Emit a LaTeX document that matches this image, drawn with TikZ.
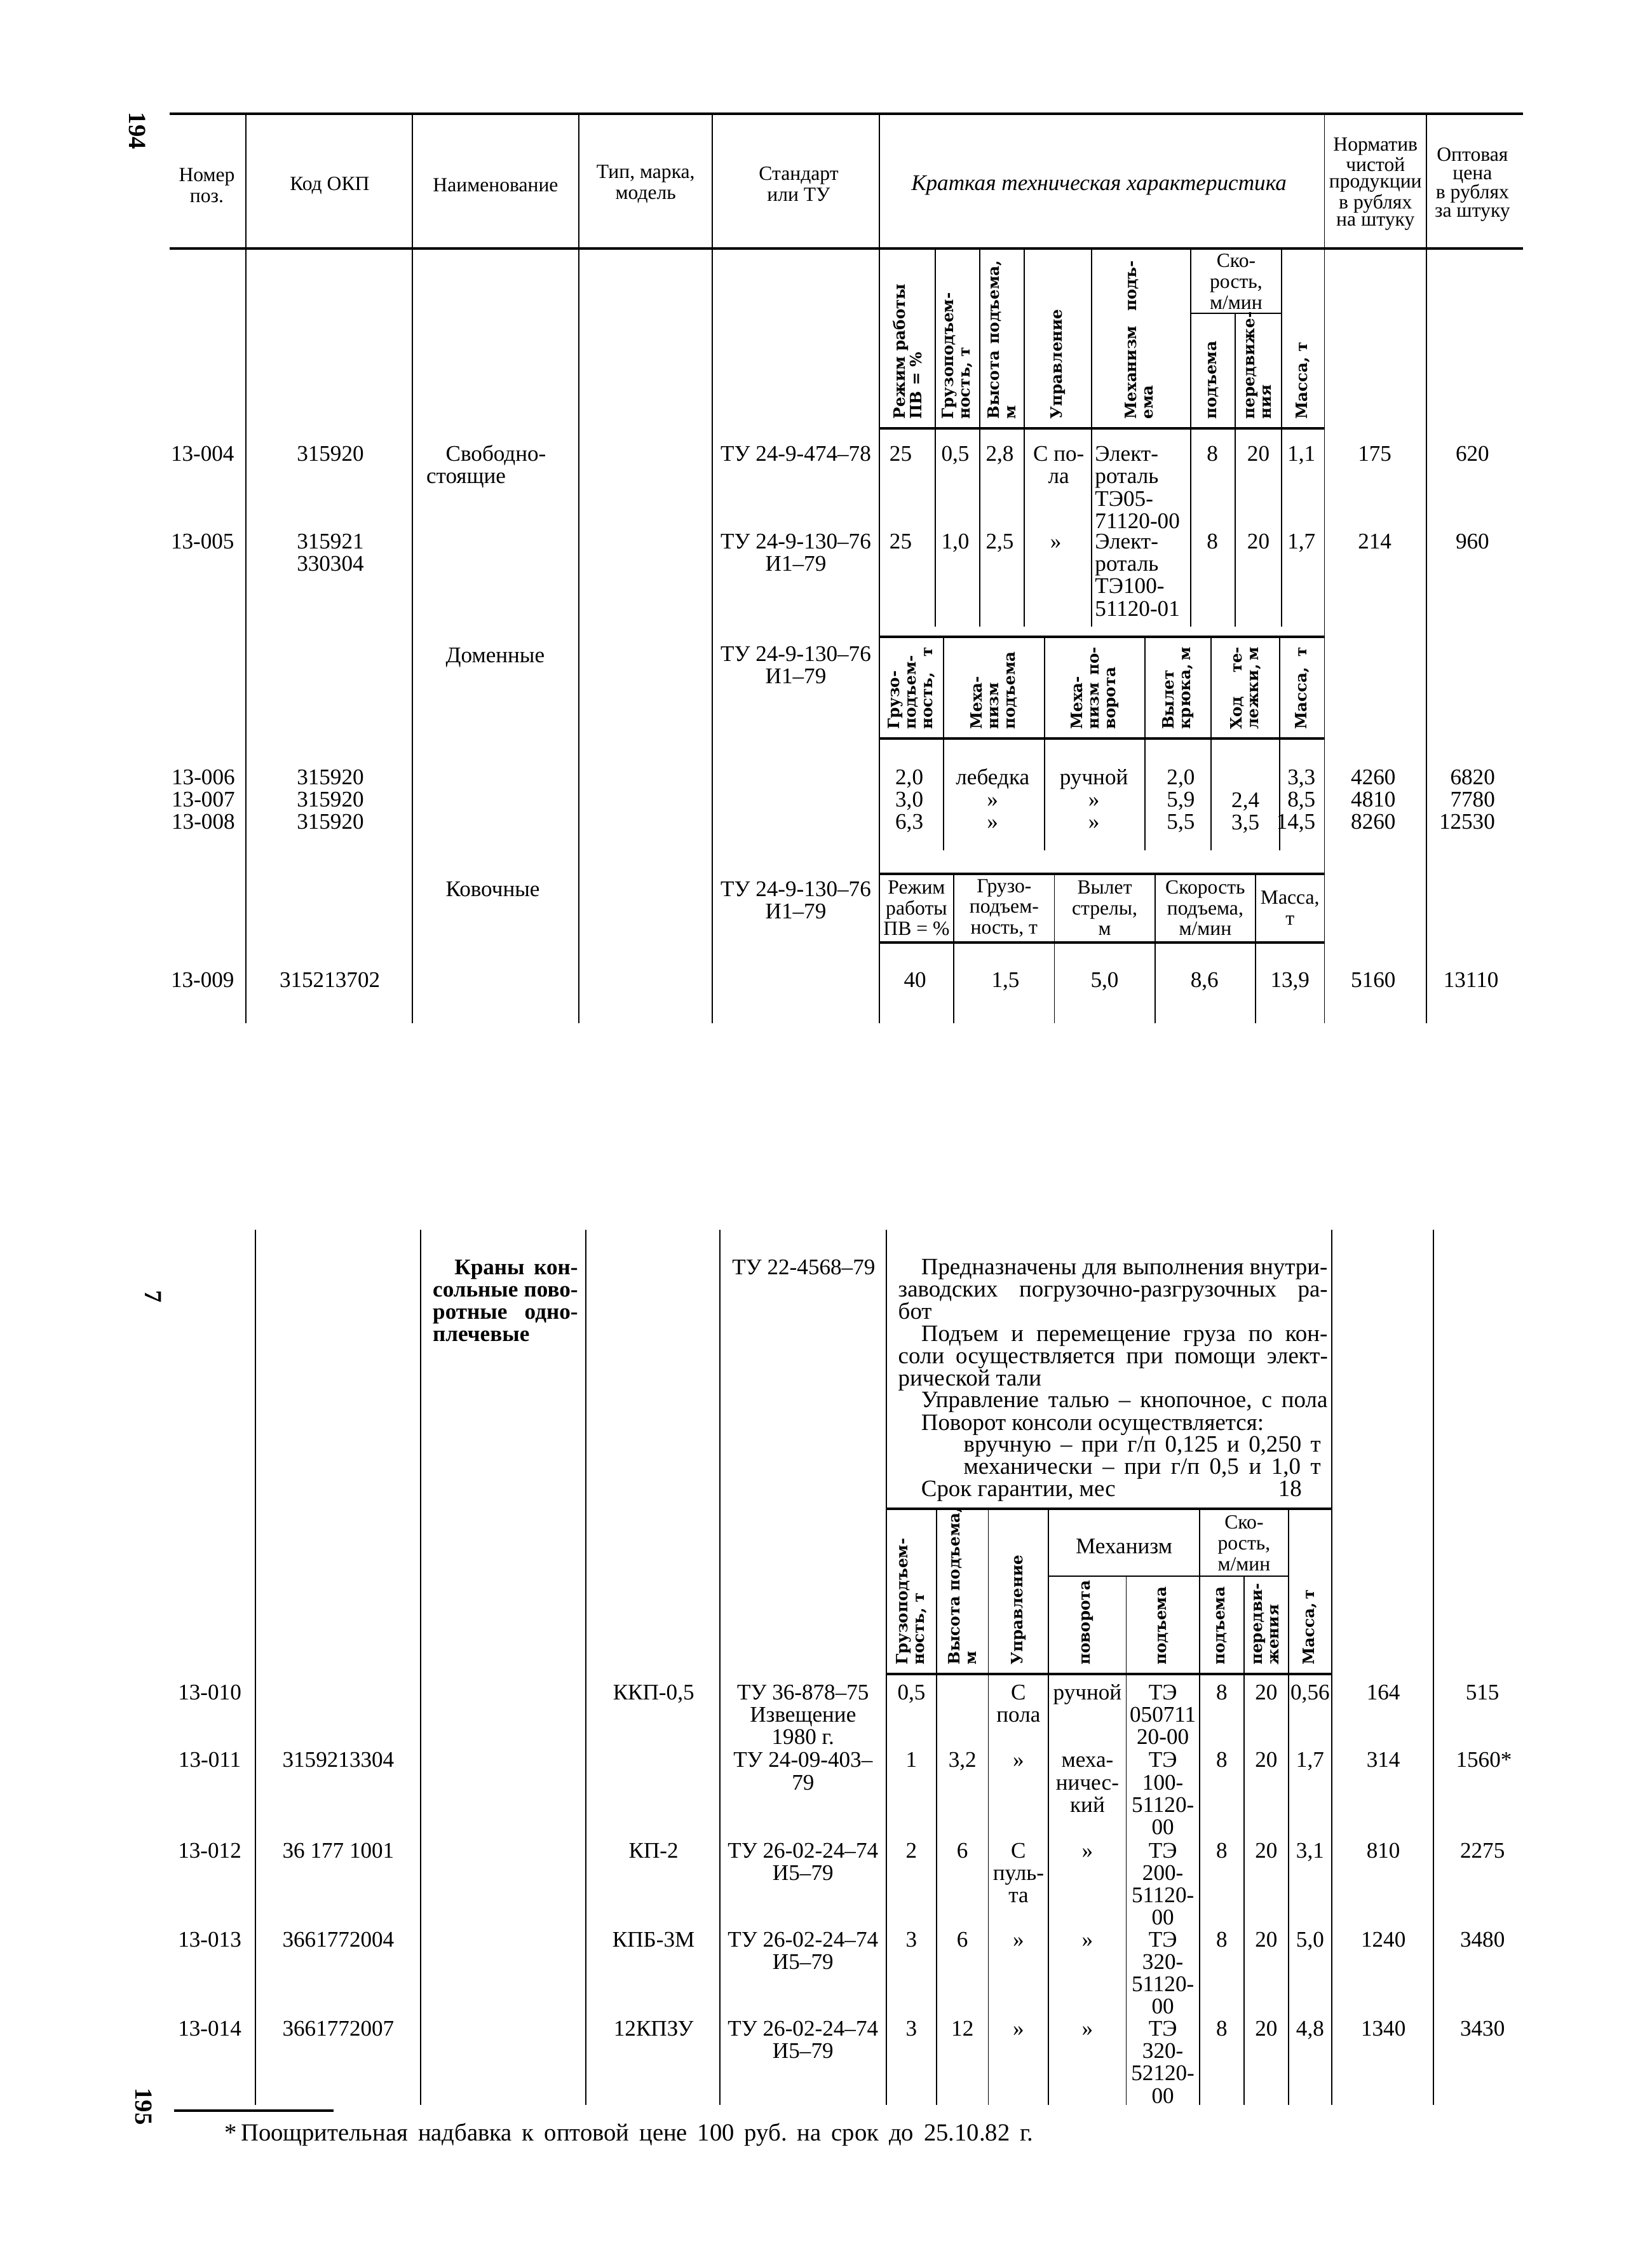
\documentclass[tikz,border=0pt]{standalone}
\usepackage{fontspec}
\setmainfont{Liberation Serif}
\newfontfamily\rotfam{DejaVu Serif}
\newcommand\datafont{\fontsize{10}{10}\selectfont}
\newcommand\descfont{\fontsize{10.5}{10}\selectfont}
\newcommand\headfont{\fontsize{9}{9.3}\selectfont}
\newcommand\rotfont{\rotfam\bfseries\fontsize{7}{7.4}\selectfont}
\newcommand\jl[2]{\makebox[#1][s]{#2}}
\newcommand\cst[1]{\begin{tabular}[t]{@{}c@{}}#1\end{tabular}}
\newcommand\lst[1]{\begin{tabular}[t]{@{}l@{}}#1\end{tabular}}
\newcommand\rst[1]{\begin{tabular}[t]{@{}r@{}}#1\end{tabular}}
\frenchspacing

\begin{document}
\begin{tikzpicture}[x=0.022617cm, y=-0.022617cm,
    rule/.style={line width=1.1pt},
    vline/.style={line width=0.55pt},
    hd/.style={font=\headfont, inner sep=0, align=center},
    cell/.style={font=\datafont, inner sep=0, anchor=base},
    desc/.style={font=\descfont, inner sep=0, anchor=base west},
    rot/.style={font=\rotfont, inner sep=0, rotate=90, anchor=west, align=left},
    pageno/.style={font=\bfseries\fontsize{11}{11}\selectfont, inner sep=0, rotate=-90}]
            \fill[white] (0,0) rectangle (1150,1568);
            \useasboundingbox (0,0) rectangle (1150,1568);
            % upper table
            \draw[rule] (118,79) -- (1060,79);
            \draw[rule] (118,173) -- (1060,173);
            \foreach \x in {171,287,403,496,612,922,993} \draw[vline] (\x,79) -- (\x,712);
            \draw[vline] (829,218) -- (892,218);
            \draw[rule] (612,298) -- (922,298);
            \foreach \x in {651,682,713,760,829,892} \draw[vline] (\x,173) -- (\x,436);
            \draw[vline] (860,218) -- (860,436);
            \draw[rule] (612,443) -- (922,443);
            \draw[rule] (612,514) -- (922,514);
            \foreach \x in {657,727,797,843,891} \draw[vline] (\x,443) -- (\x,592);
            \draw[rule] (612,608) -- (922,608);
            \draw[rule] (612,656) -- (922,656);
            \foreach \x in {664,734,804,874} \draw[vline] (\x,608) -- (\x,712);
            % lower table
            \foreach \x in {178,293,408,501,617,927,998} \draw[vline] (\x,856) -- (\x,1465);
            \draw[rule] (617,1050) -- (927,1050);
            \draw[vline] (730,1097) -- (897,1097);
            \draw[rule] (617,1165) -- (927,1165);
            \foreach \x in {652,688,730,835,897} \draw[vline] (\x,1050) -- (\x,1465);
            \foreach \x in {784,866} \draw[vline] (\x,1097) -- (\x,1465);
            \draw[line width=1pt] (121,1469) -- (232,1469);

            \node[pageno] (pg194) at (95.5,91) {194};
            \node[pageno] (pg7) at (106.5,902.5) {7};
            \node[pageno] (pg195) at (100,1466) {195};

            \node[hd] (hnum) at (144,129) {Номер\\поз.};
            \node[hd] (hcode) at (229.5,129) {Код ОКП};
            \node[hd] (hname) at (345,129) {Наименование};
            \node[hd] (htype) at (449.5,128) {Тип, марка,\\модель};
            \node[hd] (hstd) at (556,128) {Стандарт\\или ТУ};
            \node[hd, font=\itshape\fontsize{10}{10}\selectfont] (hchar) at (765,129) {Краткая техническая характеристика};
            \node[hd, font=\fontsize{9}{7.6}\selectfont] (hnorm) at (957.5,128) {Норматив\\чистой\\продукции\\в рублях\\на штуку};
            \node[hd, font=\fontsize{9}{8.4}\selectfont] (hprice) at (1025,128.5) {Оптовая\\цена\\в рублях\\за штуку};

            \node[rot] (s1a) at (631.5,292) {Режим работы\\ПВ = \%};
            \node[rot] (s1b) at (666.5,292) {Грузоподъем-\\ность, т};
            \node[rot] (s1c) at (697.5,292) {\jl{71pt}{Высота подъема,}\\м};
            \node[rot] (s1d) at (736.5,292) {Управление};
            \node[rot] (s1e) at (793,292) {\jl{71pt}{Механизм подъ-}\\ема};
            \node[hd] (s1f) at (860.5,196) {Ско-\\рость,\\м/мин};
            \node[rot] (s1g) at (844.5,292) {подъема};
            \node[rot] (s1h) at (876,292) {передвиже-\\ния};
            \node[rot] (s1i) at (907,292) {Масса, т};

            \node[cell] (n004) at (141,321) {13-004};
            \node[cell] (k004) at (230,321) {315920};
            \node[cell, anchor=base west] (m004) at (296.5,321) {\lst{\hspace*{8.7pt}Свободно-\\стоящие}};
            \node[cell] (t004) at (554,321) {ТУ 24-9-474–78};
            \node[cell] (a004) at (627,321) {25};
            \node[cell] (b004) at (665,321) {0,5};
            \node[cell] (c004) at (696,321) {2,8};
            \node[cell] (d004) at (737,321) {\cst{С по-\\ла}};
            \node[cell, anchor=base west] (e004) at (762,321) {\lst{Элект-\\роталь\\ТЭ05-\\71120-00}};
            \node[cell] (f004) at (844,321) {8};
            \node[cell] (g004) at (876,321) {20};
            \node[cell] (h004) at (906,321) {1,1};
            \node[cell] (p004) at (957,321) {175};
            \node[cell] (q004) at (1025,321) {620};

            \node[cell] (n005) at (141,382) {13-005};
            \node[cell] (k005) at (230,382) {\cst{315921\\330304}};
            \node[cell] (t005) at (554,382) {\cst{ТУ 24-9-130–76\\И1–79}};
            \node[cell] (a005) at (627,382) {25};
            \node[cell] (b005) at (665,382) {1,0};
            \node[cell] (c005) at (696,382) {2,5};
            \node[cell] (d005) at (735,382) {»};
            \node[cell, anchor=base west] (e005) at (762,382) {\lst{Элект-\\роталь\\ТЭ100-\\51120-01}};
            \node[cell] (f005) at (844,382) {8};
            \node[cell] (g005) at (876,382) {20};
            \node[cell] (h005) at (906,382) {1,7};
            \node[cell] (p005) at (957,382) {214};
            \node[cell] (q005) at (1025,382) {960};

            \node[cell, anchor=base west] (mdom) at (296.5,461) {\hspace*{8.7pt}Доменные};
            \node[cell] (tdom) at (554,460) {\cst{ТУ 24-9-130–76\\И1–79}};
            \node[rot] (s2a) at (634.5,508) {Грузо-\\подъем-\\\jl{37pt}{ность, т}};
            \node[rot] (s2b) at (692,508) {Меха-\\низм\\подъема};
            \node[rot] (s2c) at (762,508) {Меха-\\\jl{37pt}{низм по-}\\ворота};
            \node[rot] (s2d) at (820,508) {Вылет\\\jl{37pt}{крюка, м}};
            \node[rot] (s2e) at (867,508) {\jl{37pt}{Ход те-}\\\jl{37pt}{лежки, м}};
            \node[rot] (s2f) at (906.5,508) {\jl{37pt}{Масса, т}};

            \node[cell] (n006) at (141.5,546) {\cst{13-006\\13-007\\13-008}};
            \node[cell] (k006) at (230,546) {\cst{315920\\315920\\315920}};
            \node[cell] (a006) at (633,546) {\cst{2,0\\3,0\\6,3}};
            \node[cell] (b006) at (691,546) {\cst{лебедка\\»\\»}};
            \node[cell] (c006) at (761.5,546) {\cst{ручной\\»\\»}};
            \node[cell] (d006) at (822,546) {\cst{2,0\\5,9\\5,5}};
            \node[cell] (e007) at (867,562) {\cst{2,4\\3,5}};
            \node[cell, anchor=base east] (f006) at (916,546) {\rst{3,3\\8,5\\14,5}};
            \node[cell] (p006) at (956,546) {\cst{4260\\4810\\8260}};
            \node[cell, anchor=base east] (q006) at (1041,546) {\rst{6820\\7780\\12530}};

            \node[cell, anchor=base west] (mkov) at (296.5,624) {\hspace*{8.7pt}Ковочные};
            \node[cell] (tkov) at (554,624) {\cst{ТУ 24-9-130–76\\И1–79}};
            \node[hd] (s3a) at (638,632) {Режим\\работы\\ПВ = \%};
            \node[hd] (s3b) at (699,632) {Грузо-\\подъем-\\ность, т};
            \node[hd] (s3c) at (769,632) {Вылет\\стрелы,\\м};
            \node[hd] (s3d) at (839,632) {Скорость\\подъема,\\м/мин};
            \node[hd] (s3e) at (898,632) {Масса,\\т};

            \node[cell] (n009) at (141,687) {13-009};
            \node[cell] (k009) at (229.6,687) {315213702};
            \node[cell] (a009) at (637,687) {40};
            \node[cell] (b009) at (700,687) {1,5};
            \node[cell] (c009) at (769,687) {5,0};
            \node[cell] (d009) at (838.5,687) {8,6};
            \node[cell] (e009) at (898,687) {13,9};
            \node[cell] (p009) at (956,687) {5160};
            \node[cell] (q009) at (1024,687) {13110};

            % lower table
            \node[cell, anchor=base west, font=\bfseries\datafont] (mcr) at (301,887) {\lst{\hspace*{9.7pt}\jl{55.3pt}{Краны кон-}\\\jl{65pt}{сольные пово-}\\\jl{65pt}{ротные одно-}\\плечевые}};
            \node[cell] (tcr) at (559.5,887) {ТУ 22-4568–79};
            \node[desc] (d0) at (641,887) {\jl{182pt}{Предназначены для выполнения внутри-}};
            \node[desc] (d1) at (625,902.5) {\jl{192.4pt}{заводских погрузочно-разгрузочных ра-}};
            \node[desc] (d2) at (625,918) {бот};
            \node[desc] (d3) at (641,933.4) {\jl{182pt}{Подъем и перемещение груза по кон-}};
            \node[desc] (d4) at (625,948.8) {\jl{192.4pt}{соли осуществляется при помощи элект-}};
            \node[desc] (d5) at (625,964.3) {рической тали};
            \node[desc] (d6) at (641,979.7) {\jl{182pt}{Управление талью – кнопочное, с пола}};
            \node[desc] (d7) at (641,995.2) {Поворот консоли осуществляется:};
            \node[desc] (d8) at (670.5,1010.6) {\jl{160pt}{вручную – при г/п 0,125 и 0,250 т}};
            \node[desc] (d9) at (670.5,1026) {\jl{160pt}{механически – при г/п 0,5 и 1,0 т}};
            \node[desc] (d10) at (641,1041.5) {Срок гарантии, мес};
            \node[cell, font=\descfont] (d10v) at (898,1041.5) {18};

            \node[rot] (s4a) at (634.5,1159) {Грузоподъем-\\ность, т};
            \node[rot] (s4b) at (670,1159) {Высота подъема,\\м};
            \node[rot] (s4c) at (709,1159) {Управление};
            \node[hd, font=\datafont] (s4m) at (782.5,1076) {Механизм};
            \node[rot] (s4d) at (757,1159) {поворота};
            \node[rot] (s4e) at (809.5,1159) {подъема};
            \node[hd] (s4s) at (866,1074) {Ско-\\рость,\\м/мин};
            \node[rot] (s4f) at (850.5,1159) {подъема};
            \node[rot] (s4g) at (881.5,1159) {передви-\\жения};
            \node[rot] (s4h) at (912,1159) {\jl{32pt}{Масса, т}};

            \node[cell] (n010) at (146,1183) {13-010};
            \node[cell] (y010) at (455,1183) {ККП-0,5};
            \node[cell] (t010) at (559,1183) {\cst{ТУ 36-878–75\\Извещение\\1980 г.}};
            \node[cell] (a010) at (634.5,1183) {0,5};
            \node[cell] (c010) at (709,1183) {\cst{С\\пола}};
            \node[cell] (e010) at (757,1183) {ручной};
            \node[cell] (f010) at (809.5,1183) {\cst{ТЭ\\050711\\20-00}};
            \node[cell] (g010) at (850.5,1183) {8};
            \node[cell] (h010) at (881.5,1183) {20};
            \node[cell] (i010) at (912,1183) {0,56};
            \node[cell] (p010) at (963,1183) {164};
            \node[cell] (q010) at (1032,1183) {515};

            \node[cell] (n011) at (146,1230) {13-011};
            \node[cell] (k011) at (235.5,1230) {3159213304};
            \node[cell] (t011) at (559,1230) {\cst{ТУ 24-09-403–\\79}};
            \node[cell] (a011) at (634.5,1230) {1};
            \node[cell] (b011) at (670,1230) {3,2};
            \node[cell] (c011) at (709,1230) {»};
            \node[cell] (e011) at (757,1230) {\cst{меха-\\ничес-\\кий}};
            \node[cell] (f011) at (809.5,1230) {\cst{ТЭ\\100-\\51120-\\00}};
            \node[cell] (g011) at (850.5,1230) {8};
            \node[cell] (h011) at (881.5,1230) {20};
            \node[cell] (i011) at (912,1230) {1,7};
            \node[cell] (p011) at (963,1230) {314};
            \node[cell] (q011) at (1033,1230) {1560*};

            \node[cell] (n012) at (146,1293) {13-012};
            \node[cell] (k012) at (235.5,1293) {36 177 1001};
            \node[cell] (y012) at (455,1293) {КП-2};
            \node[cell] (t012) at (559,1293) {\cst{ТУ 26-02-24–74\\И5–79}};
            \node[cell] (a012) at (634.5,1293) {2};
            \node[cell] (b012) at (670,1293) {6};
            \node[cell] (c012) at (709,1293) {\cst{С\\пуль-\\та}};
            \node[cell] (e012) at (757,1293) {»};
            \node[cell] (f012) at (809.5,1293) {\cst{ТЭ\\200-\\51120-\\00}};
            \node[cell] (g012) at (850.5,1293) {8};
            \node[cell] (h012) at (881.5,1293) {20};
            \node[cell] (i012) at (912,1293) {3,1};
            \node[cell] (p012) at (963,1293) {810};
            \node[cell] (q012) at (1032,1293) {2275};

            \node[cell] (n013) at (146,1355) {13-013};
            \node[cell] (k013) at (235.5,1355) {3661772004};
            \node[cell] (y013) at (455,1355) {КПБ-3М};
            \node[cell] (t013) at (559,1355) {\cst{ТУ 26-02-24–74\\И5–79}};
            \node[cell] (a013) at (634.5,1355) {3};
            \node[cell] (b013) at (670,1355) {6};
            \node[cell] (c013) at (709,1355) {»};
            \node[cell] (e013) at (757,1355) {»};
            \node[cell] (f013) at (809.5,1355) {\cst{ТЭ\\320-\\51120-\\00}};
            \node[cell] (g013) at (850.5,1355) {8};
            \node[cell] (h013) at (881.5,1355) {20};
            \node[cell] (i013) at (912,1355) {5,0};
            \node[cell] (p013) at (963,1355) {1240};
            \node[cell] (q013) at (1032,1355) {3480};

            \node[cell] (n014) at (146,1417) {13-014};
            \node[cell] (k014) at (235.5,1417) {3661772007};
            \node[cell] (y014) at (455,1417) {12КПЗУ};
            \node[cell] (t014) at (559,1417) {\cst{ТУ 26-02-24–74\\И5–79}};
            \node[cell] (a014) at (634.5,1417) {3};
            \node[cell] (b014) at (670,1417) {12};
            \node[cell] (c014) at (709,1417) {»};
            \node[cell] (e014) at (757,1417) {»};
            \node[cell] (f014) at (809.5,1417) {\cst{ТЭ\\320-\\52120-\\00}};
            \node[cell] (g014) at (850.5,1417) {8};
            \node[cell] (h014) at (881.5,1417) {20};
            \node[cell] (i014) at (912,1417) {4,8};
            \node[cell] (p014) at (963,1417) {1340};
            \node[cell] (q014) at (1032,1417) {3430};

            \node[cell, anchor=base west, font=\fontsize{11}{11}\selectfont] (fnote) at (156,1490) {*\,\jl{355pt}{Поощрительная надбавка к оптовой цене 100 руб. на срок до 25.10.82 г.}};
        \end{tikzpicture}
\end{document}
